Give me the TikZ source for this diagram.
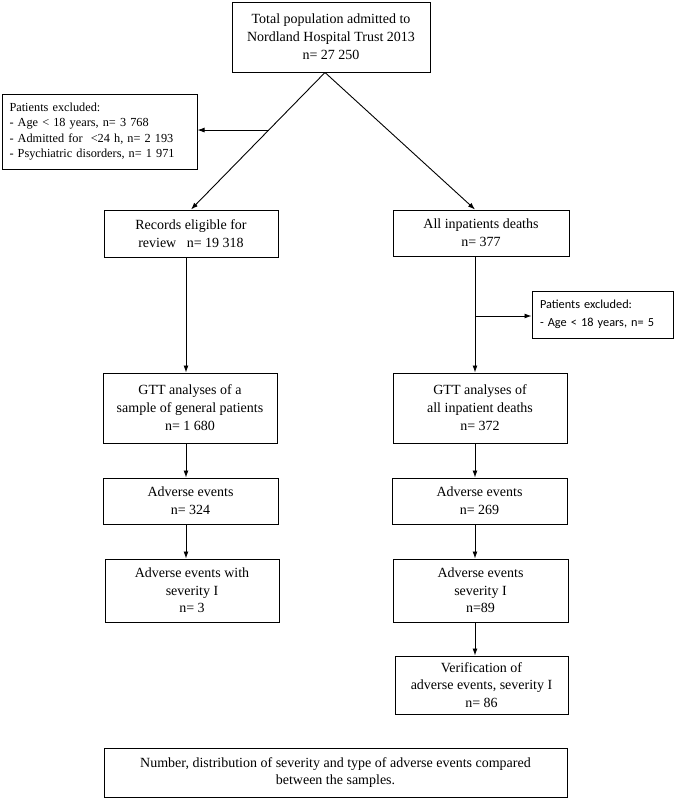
\documentclass[tikz,border=0pt]{standalone}
\usepackage{fontspec}
\setmainfont{Liberation Serif}
\newfontfamily\calib{Carlito}
\usetikzlibrary{arrows.meta,calc}
\begin{document}
\begin{tikzpicture}[x=1pt,y=-1pt,
  box/.style={draw, line width=1pt, inner sep=2pt, align=center, font=\fontsize{14}{18}\selectfont},
  tbox/.style={box, font=\fontsize{14}{17.5}\selectfont},
  exbox/.style={draw, line width=1pt, inner ysep=2pt, align=left},
  arr/.style={-{Latex[length=7pt,width=5pt]}, line width=0.9pt}]
\useasboundingbox (0,0) rectangle (674,798);

\node[box, minimum width=198pt, minimum height=70pt] (top) at (331,37)
  {Total population admitted to\\Nordland Hospital Trust 2013\\n= 27 250};
\node[exbox, inner xsep=7.5pt, text width=180pt, minimum height=75pt,
  font=\fontsize{12.3}{15.5}\selectfont] (ex1) at (99.5,131.5)
  {Patients excluded:\\- Age < 18 years, n= 3 768\\- Admitted for\ \ <24 h, n= 2 193\\- Psychiatric disorders, n= 1 971};

\node[box, minimum width=174pt, minimum height=47pt] (rec) at (191,233.5)
  {Records eligible for\\review\ \ \ n= 19 318};
\node[box, minimum width=176pt, minimum height=46pt] (dea) at (481,233)
  {All inpatients deaths\\n= 377};

\node[exbox, inner xsep=8pt, text width=125pt, minimum height=47pt,
  font=\calib\fontsize{12.3}{18}\selectfont] (ex2) at (602.5,314.5)
  {Patients excluded:\\- Age < 18 years, n= 5};

\node[box, minimum width=174pt, minimum height=70pt] (gttl) at (190,408)
  {GTT analyses of a\\sample of general patients\\n= 1 680};
\node[box, minimum width=174pt, minimum height=70pt] (gttr) at (480,408)
  {GTT analyses of\\all inpatient deaths\\n= 372};

\node[box, minimum width=175pt, minimum height=46pt] (ael) at (190.5,501)
  {Adverse events\\n= 324};
\node[box, minimum width=175pt, minimum height=46pt] (aer) at (479.5,501)
  {Adverse events\\n= 269};

\node[tbox, minimum width=174pt, minimum height=63pt] (sevl) at (192,590.5)
  {Adverse events with\\severity I\\n= 3};
\node[tbox, minimum width=175pt, minimum height=63pt] (sevr) at (480.5,590.5)
  {Adverse events\\severity I\\n=89};

\node[tbox, minimum width=173pt, minimum height=58pt] (ver) at (481.5,685)
  {Verification of\\adverse events, severity I\\n= 86};

\node[box, minimum width=463pt, minimum height=49pt, font=\fontsize{14}{16.5}\selectfont] (cmp) at (335.5,772.5)
  {Number, distribution of severity and type of adverse events compared\\between the samples.};

% connectors
\coordinate (apex) at ([xshift=-6pt]top.south);
\draw[arr] (apex) -- (rec.north);
\draw[arr] (apex) -- ([xshift=-6pt]dea.north);
\coordinate (bl) at ($(apex)!0.42!(rec.north)$);
\draw[arr] (bl) -- (bl -| ex1.east);

\draw[arr] ([xshift=-5pt]rec.south) -- ([xshift=-4pt]gttl.north);
\draw[arr] ([xshift=-4pt]gttl.south) -- ([xshift=-4.5pt]ael.north);
\draw[arr] ([xshift=-4.5pt]ael.south) -- ([xshift=-6pt]sevl.north);

\coordinate (vd) at ([xshift=-6pt]dea.south);
\draw[arr] (vd) -- ([xshift=-5pt]gttr.north);
\coordinate (br) at ([yshift=-1.5pt]ex2.west -| vd);
\draw[arr] (br) -- (br -| ex2.west);
\draw[arr] ([xshift=-5pt]gttr.south) -- ([xshift=-4.5pt]aer.north);
\draw[arr] ([xshift=-4.5pt]aer.south) -- ([xshift=-5.5pt]sevr.north);
\draw[arr] ([xshift=-5.5pt]sevr.south) -- ([xshift=-6.5pt]ver.north);
\end{tikzpicture}
\end{document}
